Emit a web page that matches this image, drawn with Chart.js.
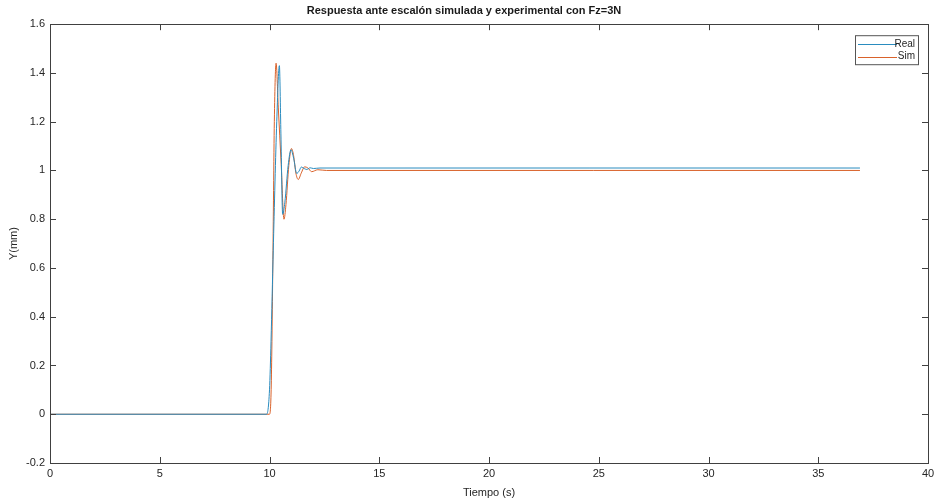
<!DOCTYPE html>
<html><head><meta charset="utf-8">
<script src="https://cdn.jsdelivr.net/npm/chart.js@4.4.1/dist/chart.umd.min.js"></script>
<style>html,body{margin:0;padding:0;background:#fff}#wrap{width:934px;height:504px}</style>
</head><body><div id="wrap"><canvas id="c" width="934" height="504"></canvas></div>
<script>
const chartTitle = 'Respuesta ante escalón simulada y experimental con Fz=3N';
const xLabel = 'Tiempo (s)';
const yLabel = 'Y(mm)';
const seriesNames = ['Real', 'Sim'];
const timeReal = [0, 9.87, 10.0, 10.07, 10.17, 10.33, 10.45, 10.52, 10.6, 10.7, 10.85, 10.98, 11.1, 11.24, 11.35, 11.45, 11.58, 11.7, 11.85, 12.0, 12.3, 36.9];
const yReal    = [0, 0, 0.1, 0.3, 0.67, 1.2, 1.43, 1.15, 0.82, 0.87, 1.02, 1.085, 1.05, 0.988, 0.998, 1.014, 1.008, 1.004, 1.011, 1.008, 1.01, 1.01];
const timeSim  = [0, 10.0, 10.08, 10.15, 10.22, 10.3, 10.4, 10.53, 10.66, 10.75, 10.88, 11.0, 11.1, 11.2, 11.31, 11.45, 11.6, 11.75, 11.92, 12.2, 12.6, 36.9];
const ySim     = [0, 0, 0.12, 0.6, 1.2, 1.44, 1.26, 1.03, 0.80, 0.86, 1.02, 1.09, 1.06, 0.99, 0.963, 0.99, 1.015, 1.01, 0.995, 1.003, 1.0, 1.0];
const xTicks = [0, 5, 10, 15, 20, 25, 30, 35, 40];
const yTicks = [-0.2, 0, 0.2, 0.4, 0.6, 0.8, 1, 1.2, 1.4, 1.6];

const colors = ['#2a8cbf', '#d9622b'];
const FONT = '"Liberation Sans", Arial, sans-serif';
const axisColor = '#404040';

const boxPlugin = {
  id: 'box',
  afterDraw(chart) {
    const ctx = chart.ctx, a = chart.chartArea;
    const xs = chart.scales.x, ys = chart.scales.y;
    ctx.save();
    ctx.strokeStyle = axisColor; ctx.lineWidth = 1;
    ctx.strokeRect(Math.round(a.left) + 0.5, Math.round(a.top) + 0.5, Math.round(a.right - a.left), Math.round(a.bottom - a.top));
    const L = 6;
    ctx.beginPath();
    xTicks.forEach(v => {
      const px = Math.round(xs.getPixelForValue(v)) + 0.5;
      ctx.moveTo(px, a.bottom); ctx.lineTo(px, a.bottom - L);
      ctx.moveTo(px, a.top); ctx.lineTo(px, a.top + L);
    });
    yTicks.forEach(v => {
      const py = Math.round(ys.getPixelForValue(v)) + 0.5;
      ctx.moveTo(a.left, py); ctx.lineTo(a.left + L, py);
      ctx.moveTo(a.right, py); ctx.lineTo(a.right - L, py);
    });
    ctx.stroke();
    // axis titles
    ctx.fillStyle = '#262626';
    ctx.font = '11px ' + FONT;
    ctx.textAlign = 'center'; ctx.textBaseline = 'middle';
    ctx.fillText(xLabel, (a.left + a.right) / 2, 493);
    ctx.save();
    ctx.translate(14, (a.top + a.bottom) / 2);
    ctx.rotate(-Math.PI / 2);
    ctx.fillText(yLabel, 0, 0);
    ctx.restore();
    // legend
    const bx = a.right - 73, by = a.top + 11, bw = 63, bh = 29;
    ctx.fillStyle = '#fff';
    ctx.fillRect(bx, by, bw, bh);
    ctx.strokeStyle = '#555'; ctx.lineWidth = 1;
    ctx.strokeRect(bx + 0.5, by + 0.5, bw, bh);
    chart.data.datasets.forEach((ds, i) => {
      const yy = by + 9 + i * 12.5;
      ctx.strokeStyle = ds.borderColor; ctx.lineWidth = 1;
      ctx.beginPath(); ctx.moveTo(bx + 3, Math.round(yy) + 0.5); ctx.lineTo(bx + 42, Math.round(yy) + 0.5); ctx.stroke();
      ctx.fillStyle = '#262626'; ctx.textAlign = 'right'; ctx.font = '10px ' + FONT;
      ctx.fillText(ds.label, bx + bw - 3, yy);
    });
    ctx.restore();
  }
};

new Chart(document.getElementById('c'), {
  type: 'line',
  data: {
    datasets: [
      { label: seriesNames[0], data: timeReal.map((t, i) => ({x: t, y: yReal[i]})), borderColor: colors[0], borderWidth: 1, pointRadius: 0, cubicInterpolationMode: 'monotone', fill: false },
      { label: seriesNames[1], data: timeSim.map((t, i) => ({x: t, y: ySim[i]})), borderColor: colors[1], borderWidth: 1, pointRadius: 0, cubicInterpolationMode: 'monotone', fill: false }
    ]
  },
  options: {
    responsive: false, animation: false,
    layout: { padding: { left: 0, right: 6, top: 0, bottom: 0 } },
    plugins: {
      legend: { display: false },
      tooltip: { enabled: false },
      title: { display: true, text: chartTitle, color: '#1a1a1a', font: { family: FONT, size: 11, weight: 'bold' }, padding: { top: 4, bottom: 7 } }
    },
    scales: {
      x: {
        type: 'linear', min: 0, max: 40,
        afterBuildTicks: s => { s.ticks = xTicks.map(v => ({value: v})); },
        afterFit: s => { s.height = 41; s.paddingLeft = 0; s.paddingRight = 0; },
        grid: { display: false, drawTicks: false },
        border: { display: false },
        ticks: { color: '#262626', font: { family: FONT, size: 11 }, padding: 4, maxRotation: 0, callback: v => String(v) }
      },
      y: {
        type: 'linear', min: -0.2, max: 1.6,
        afterBuildTicks: s => { s.ticks = yTicks.map(v => ({value: v})); },
        afterFit: s => { s.width = 50; s.paddingTop = 0; s.paddingBottom = 0; },
        grid: { display: false, drawTicks: false },
        border: { display: false },
        ticks: { color: '#262626', font: { family: FONT, size: 11 }, padding: 5, callback: v => String(+v.toFixed(2)) }
      }
    }
  },
  plugins: [boxPlugin]
});
</script></body></html>
